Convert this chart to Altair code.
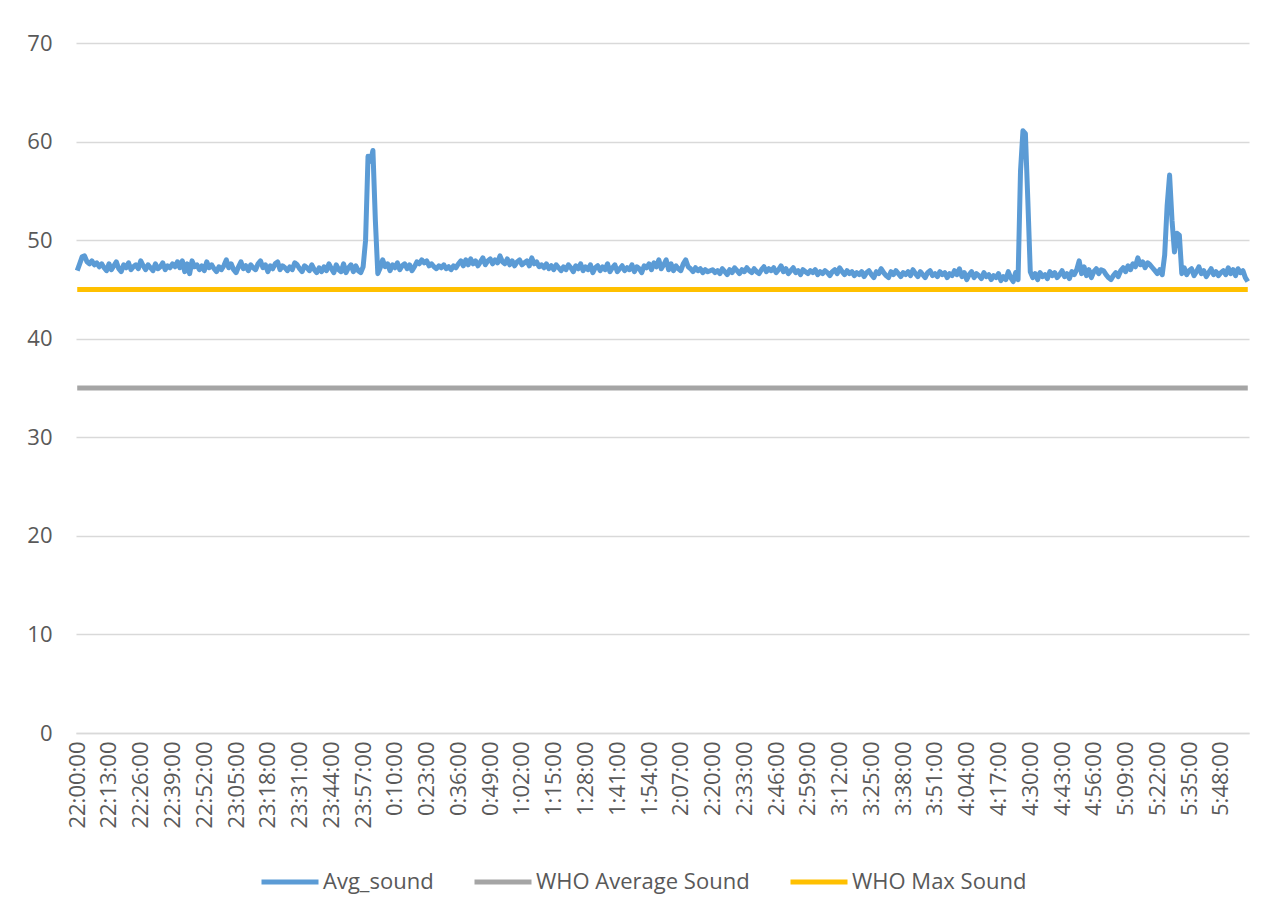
import altair as alt
import pandas as pd

# Category labels: one reading per minute from 22:00:00 to 5:59:00
times = []
for i in range(480):
    total = (22 * 60 + i) % (24 * 60)
    h, m = divmod(total, 60)
    times.append(f"{h}:{m:02d}:00")

label_times = times[::13]

avg_sound = [
    46.9, 47.6, 48.3, 48.4, 47.8, 47.6, 47.9, 47.5, 47.7, 47.3, 47.6, 47.2, 46.9, 47.6, 47.0, 47.4, 47.8, 47.1, 46.8, 47.5,
    47.2, 47.7, 47.0, 47.3, 47.5, 47.1, 47.9, 47.4, 47.0, 47.5, 47.2, 46.9, 47.6, 47.1, 47.3, 47.7, 47.0, 47.4, 47.2, 47.6,
    47.3, 47.8, 47.2, 47.9, 46.8, 47.6, 46.6, 47.9, 47.3, 47.5, 47.0, 47.4, 46.9, 47.8, 47.2, 47.5, 47.1, 46.8, 47.3, 47.0,
    47.4, 48.0, 47.2, 47.6, 47.0, 46.7, 47.3, 47.8, 47.1, 47.4, 46.9, 47.5, 47.2, 47.0, 47.6, 47.9, 47.2, 47.5, 46.8, 47.4,
    47.1, 47.6, 47.8, 47.0, 47.4, 47.2, 46.9, 47.3, 47.0, 47.7, 47.5, 47.1, 46.8, 47.4, 47.2, 46.9, 47.5, 47.0, 46.7, 47.2,
    46.8, 47.3, 46.9, 47.6, 47.1, 46.7, 47.5, 47.0, 46.8, 47.6, 46.7, 47.2, 47.5, 46.8, 47.4, 46.9, 46.7, 47.3, 50.0, 58.5,
    58.0, 59.1, 52.0, 46.6, 47.2, 48.0, 47.3, 47.6, 46.9, 47.5, 47.2, 47.7, 47.0, 47.4, 47.6, 47.1, 47.5, 46.9, 47.3, 47.8,
    47.6, 48.0, 47.7, 47.9, 47.4, 47.6, 47.3, 47.1, 47.4, 47.2, 47.5, 47.1, 47.3, 47.0, 47.4, 47.2, 47.6, 47.9, 47.4, 48.0,
    47.5, 48.1, 47.6, 47.9, 47.4, 47.8, 48.2, 47.5, 47.9, 48.1, 47.6, 48.0, 47.7, 48.4, 47.8, 47.6, 48.1, 47.5, 47.9, 47.4,
    47.8, 48.0, 47.5, 47.7, 47.9, 47.4, 48.2, 47.6, 47.8, 47.3, 47.5, 47.2, 47.6, 47.1, 47.4, 47.0, 47.5, 47.2, 46.9, 47.3,
    47.0, 47.5, 47.2, 46.8, 47.4, 47.1, 47.6, 46.9, 47.3, 47.0, 47.5, 46.7, 47.2, 47.4, 46.9, 47.3, 47.0, 47.6, 46.8, 47.2,
    47.5, 46.8, 47.1, 47.4, 46.9, 47.2, 47.0, 47.5, 46.8, 47.3, 47.1, 46.7, 47.4, 47.2, 47.6, 47.0, 47.7, 47.3, 48.0, 47.1,
    47.5, 48.0, 47.0, 47.6, 46.9, 47.4, 47.1, 46.9, 47.6, 48.0, 47.3, 47.1, 46.8, 47.2, 46.9, 47.1, 46.7, 47.0, 46.8, 46.9,
    47.0, 46.7, 46.9, 46.6, 47.1, 46.8, 46.5, 47.0, 46.7, 47.2, 46.9, 46.6, 47.0, 46.8, 47.2, 46.9, 46.7, 47.1, 46.8, 46.6,
    47.0, 47.3, 46.8, 47.1, 46.9, 47.2, 46.7, 47.0, 47.4, 46.8, 47.1, 46.6, 46.9, 47.2, 46.7, 46.9, 46.5, 47.0, 46.8, 46.6,
    46.9, 46.7, 47.0, 46.5, 46.8, 46.6, 46.9, 46.7, 46.4, 46.8, 47.0, 46.6, 47.2, 46.8, 46.5, 46.9, 46.6, 46.8, 46.4, 46.7,
    46.5, 46.8, 46.3, 46.7, 46.9, 46.5, 46.2, 46.8, 46.6, 47.1, 46.7, 46.4, 46.2, 46.8, 46.5, 46.9, 46.6, 46.3, 46.7, 46.5,
    46.8, 46.4, 47.0, 46.6, 46.3, 46.8, 46.5, 46.2, 46.7, 46.9, 46.4, 46.6, 46.3, 46.8, 46.5, 46.7, 46.2, 46.6, 46.4, 46.9,
    46.5, 47.1, 46.3, 46.7, 46.0, 46.5, 46.8, 46.2, 46.6, 46.4, 46.1, 46.7, 46.3, 46.5, 46.0, 46.4, 46.2, 46.6, 45.9, 46.3,
    46.0, 46.8, 46.2, 45.8, 46.7, 46.0, 57.0, 61.1, 60.8, 54.0, 46.8, 46.2, 46.6, 46.0, 46.7, 46.3, 46.5, 46.1, 46.8, 46.4,
    46.7, 46.2, 46.5, 46.9, 46.3, 46.6, 46.1, 46.8, 46.5, 47.0, 47.9, 46.6, 47.3, 46.4, 47.0, 46.2, 46.8, 47.1, 46.6, 47.0,
    46.9, 46.5, 46.2, 46.0, 46.4, 46.7, 46.3, 46.9, 47.2, 46.8, 47.4, 47.0, 47.6, 47.3, 48.2, 47.5, 47.8, 47.2, 47.7, 47.5,
    47.2, 46.9, 46.6, 47.0, 46.5, 48.5, 53.5, 56.6, 52.0, 48.8, 50.7, 50.5, 46.6, 47.2, 46.5, 46.9, 47.1, 46.4, 46.8, 47.3,
    46.6, 46.9, 46.3, 46.7, 47.1, 46.5, 46.8, 46.4, 46.7, 46.9, 46.5, 47.2, 46.6, 47.0, 46.4, 47.1, 46.7, 46.9, 46.2, 45.8,
]
assert len(avg_sound) == len(times)

who_average_level = 35
who_max_level = 45

series_names = ["Avg_sound", "WHO Average Sound", "WHO Max Sound"]
series_colors = ["#5B9BD5", "#A5A5A5", "#FFC000"]
y_ticks = [0, 10, 20, 30, 40, 50, 60, 70]

rows = []
for i, t in enumerate(times):
    rows.append({"idx": i, "time": t, "series": series_names[0], "value": avg_sound[i]})
for i, t in enumerate(times):
    rows.append({"idx": i, "time": t, "series": series_names[1], "value": who_average_level})
for i, t in enumerate(times):
    rows.append({"idx": i, "time": t, "series": series_names[2], "value": who_max_level})
df = pd.DataFrame(rows)

FONT = "Open Sans"
TXT = "#595959"
GRID = "#D9D9D9"
FS = 22

chart = alt.Chart(df).mark_line(strokeWidth=5, strokeJoin="round", strokeCap="butt").encode(
    x=alt.X(
        "time:O",
        sort=times,
        scale=alt.Scale(type="point", padding=0.5),
        axis=alt.Axis(
            values=label_times,
            labelAngle=-90,
            labelAlign="right",
            labelBaseline="middle",
            labelOverlap=False,
            labelPadding=8,
            ticks=False,
            tickSize=0,
            grid=False,
            domain=True,
            domainColor=GRID,
            domainWidth=1.5,
            labelFont=FONT,
            labelFontSize=FS,
            labelColor=TXT,
        ),
        title=None,
    ),
    y=alt.Y(
        "value:Q",
        scale=alt.Scale(domain=[0, 70], nice=False, zero=True),
        axis=alt.Axis(
            values=y_ticks,
            grid=True,
            gridColor=GRID,
            gridWidth=1.5,
            domain=False,
            ticks=False,
            tickSize=0,
            labelPadding=24,
            labelFont=FONT,
            labelFontSize=FS,
            labelColor=TXT,
        ),
        title=None,
    ),
    color=alt.Color(
        "series:N",
        scale=alt.Scale(domain=series_names, range=series_colors),
        legend=alt.Legend(
            title=None,
            orient="none",
            legendX=183,
            legendY=808,
            direction="horizontal",
            symbolType="stroke",
            symbolSize=3249,
            symbolStrokeWidth=5,
            labelFont=FONT,
            labelFontSize=FS,
            labelColor=TXT,
            labelLimit=500,
            labelOffset=2,
            columnPadding=30,
        ),
    ),
    order=alt.Order("idx:Q"),
).properties(
    width=1173,
    height=690,
    autosize=alt.AutoSizeParams(type="none"),
    padding={"left": 68, "top": 35, "right": 10, "bottom": 166},
    background="white",
).configure_view(stroke=None)

chart.save("out.html", embed_options={"renderer": "svg", "actions": False})
